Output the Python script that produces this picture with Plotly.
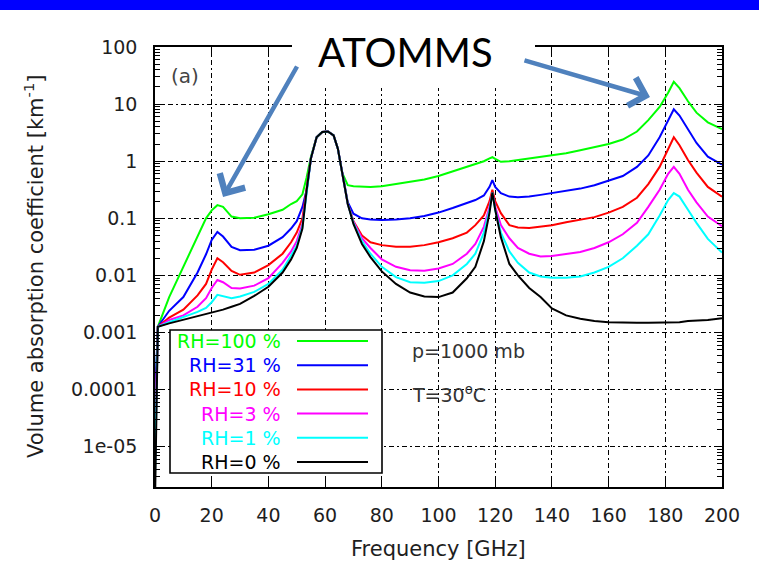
import plotly.graph_objects as go

# Frequency grid [GHz]
freq = [0, 1, 5, 10, 15, 18, 20, 22, 24, 27, 30, 35, 40, 45, 48, 50, 52, 53.5, 55, 57, 59,
        61, 63, 64.5, 66, 68, 70, 73, 76, 80, 85, 90, 95, 100, 105, 110, 113, 116, 118,
        119, 120, 122, 125, 128, 132, 136, 140, 145, 150, 155, 160, 165, 170, 174, 178,
        181, 183, 185, 188, 191, 195, 200]

# log10 of the volume absorption coefficient [km^-1] for each relative humidity
log_rh100 = [-4.4, -2.90, -2.38, -1.85, -1.32, -1.00, -0.86, -0.77, -0.80, -0.97, -1.00, -0.99,
             -0.93, -0.85, -0.75, -0.70, -0.58, -0.28, 0.08, 0.42, 0.51, 0.52, 0.45, 0.22,
             -0.20, -0.42, -0.44, -0.45, -0.45, -0.44, -0.40, -0.36, -0.32, -0.26, -0.18,
             -0.10, -0.05, 0.00, 0.05, 0.07, 0.04, -0.01, 0.00, 0.02, 0.05, 0.08, 0.11, 0.14,
             0.19, 0.24, 0.30, 0.38, 0.52, 0.72, 0.95, 1.20, 1.39, 1.28, 1.05, 0.85, 0.68, 0.56]
log_rh31 = [-4.2, -2.90, -2.62, -2.38, -1.95, -1.63, -1.38, -1.24, -1.32, -1.50, -1.56, -1.55,
            -1.48, -1.33, -1.18, -1.05, -0.80, -0.50, 0.05, 0.42, 0.51, 0.52, 0.45, 0.22,
            -0.18, -0.72, -0.92, -1.00, -1.02, -1.03, -1.02, -1.00, -0.96, -0.90, -0.82,
            -0.74, -0.68, -0.60, -0.45, -0.33, -0.45, -0.56, -0.62, -0.63, -0.62, -0.59,
            -0.56, -0.53, -0.48, -0.42, -0.34, -0.26, -0.10, 0.10, 0.42, 0.70, 0.91, 0.80,
            0.55, 0.32, 0.08, -0.06]
log_rh10 = [-5.0, -2.90, -2.74, -2.60, -2.35, -2.15, -1.90, -1.70, -1.77, -1.92, -1.99, -1.95,
            -1.82, -1.62, -1.42, -1.25, -1.00, -0.50, 0.05, 0.42, 0.51, 0.52, 0.45, 0.22,
            -0.18, -0.75, -1.05, -1.30, -1.42, -1.47, -1.50, -1.50, -1.47, -1.42, -1.35,
            -1.25, -1.12, -0.95, -0.70, -0.50, -0.70, -0.91, -1.12, -1.16, -1.17, -1.15,
            -1.12, -1.07, -1.03, -0.98, -0.90, -0.80, -0.64, -0.40, -0.10, 0.20, 0.42, 0.28,
            0.02, -0.20, -0.45, -0.62]
log_rh3 = [-5.3, -2.90, -2.78, -2.70, -2.55, -2.40, -2.22, -2.08, -2.12, -2.22, -2.23, -2.18,
           -2.05, -1.78, -1.58, -1.40, -1.10, -0.50, 0.05, 0.42, 0.51, 0.52, 0.45, 0.22,
           -0.18, -0.75, -1.06, -1.35, -1.52, -1.72, -1.85, -1.91, -1.92, -1.88, -1.80,
           -1.62, -1.45, -1.15, -0.80, -0.55, -0.80, -1.12, -1.35, -1.52, -1.62, -1.67,
           -1.66, -1.63, -1.59, -1.52, -1.42, -1.28, -1.08, -0.80, -0.50, -0.22, -0.10,
           -0.22, -0.50, -0.72, -0.97, -1.14]
log_rh1 = [-5.5, -2.90, -2.82, -2.73, -2.64, -2.57, -2.47, -2.34, -2.36, -2.40, -2.37, -2.29,
           -2.15, -1.90, -1.65, -1.48, -1.15, -0.50, 0.05, 0.42, 0.51, 0.52, 0.45, 0.22,
           -0.18, -0.75, -1.08, -1.40, -1.62, -1.85, -2.03, -2.12, -2.13, -2.10, -2.00,
           -1.80, -1.62, -1.25, -0.85, -0.55, -0.85, -1.25, -1.58, -1.78, -1.95, -2.02,
           -2.04, -2.04, -2.02, -1.95, -1.85, -1.70, -1.48, -1.28, -0.95, -0.68, -0.56,
           -0.62, -0.85, -1.08, -1.36, -1.60]
log_rh0 = [-6.0, -2.90, -2.84, -2.78, -2.72, -2.68, -2.66, -2.63, -2.60, -2.55, -2.50, -2.36,
           -2.20, -1.95, -1.72, -1.52, -1.18, -0.50, 0.05, 0.42, 0.51, 0.52, 0.45, 0.22,
           -0.18, -0.75, -1.10, -1.45, -1.68, -1.93, -2.15, -2.30, -2.37, -2.38, -2.30,
           -2.05, -1.85, -1.40, -0.90, -0.55, -0.85, -1.33, -1.80, -2.00, -2.22, -2.38,
           -2.58, -2.70, -2.76, -2.80, -2.82, -2.83, -2.83, -2.83, -2.83, -2.83, -2.83,
           -2.82, -2.80, -2.79, -2.78, -2.75]

series_labels = ["RH=100 %", "RH=31 %", "RH=10 %", "RH=3 %", "RH=1 %", "RH=0 %"]
series_logs = [log_rh100, log_rh31, log_rh10, log_rh3, log_rh1, log_rh0]
series_colors = ["#00ff00", "#0000ff", "#ff0000", "#ff00ff", "#00ffff", "#000000"]

y_tick_vals = [1e-5, 1e-4, 1e-3, 1e-2, 1e-1, 1, 10, 100]
y_tick_text = ["1e-05", "0.0001", "0.001", "0.01", "0.1", "1", "10", "100"]
x_tick_vals = [0, 20, 40, 60, 80, 100, 120, 140, 160, 180, 200]

GNU_FONT = "DejaVu Sans"
TXT = "#1e1e1e"

fig = go.Figure()
for label, logs, color in zip(series_labels, series_logs, series_colors):
    fig.add_trace(go.Scatter(
        x=freq, y=[10 ** v for v in logs], mode="lines", name=label,
        line=dict(color=color, width=2), showlegend=False, cliponaxis=True))

minor_vals = [m * 10.0 ** e for e in range(-6, 2) for m in range(2, 10)]
grid_dash = "5px,3px,2px,3px"

fig.update_xaxes(
    range=[0, 200], tickvals=x_tick_vals, ticks="inside", ticklen=8, tickwidth=1.3,
    tickcolor="black", showline=True, linecolor="black", linewidth=1.6, mirror="ticks",
    showgrid=True, gridcolor="black", gridwidth=1.2, griddash=grid_dash,
    zeroline=False, tickfont=dict(family=GNU_FONT, size=19, color=TXT),
    ticklabelstandoff=10)
fig.update_yaxes(
    type="log", range=[-5.706, 2], tickvals=y_tick_vals, ticktext=y_tick_text,
    ticks="inside", ticklen=8, tickwidth=1.3, tickcolor="black",
    minor=dict(tickvals=minor_vals, ticks="inside", ticklen=5, tickcolor="black",
               showgrid=False),
    showline=True, linecolor="black", linewidth=1.6, mirror="ticks",
    showgrid=True, gridcolor="black", gridwidth=1.2, griddash=grid_dash,
    zeroline=False, tickfont=dict(family=GNU_FONT, size=19, color=TXT),
    ticklabelstandoff=12)

W, H = 759, 562
ML, MR, MT, MB = 155, 37, 47, 75
PW, PH = W - ML - MR, H - MT - MB


def px(x):
    return (x - ML) / PW


def py(y):
    return 1 - (y - MT) / PH


shapes = []
annotations = []

# title band across the top
shapes.append(dict(type="rect", xref="paper", yref="paper", x0=px(0), x1=px(W),
                   y0=py(10), y1=py(0), fillcolor="#0000ff", line_width=0, layer="above"))
# white backing behind the ATOMMS label
shapes.append(dict(type="rect", xref="paper", yref="paper", x0=px(292), x1=px(535),
                   y0=py(88), y1=py(12), fillcolor="white", line_width=0, layer="above"))

# legend box
shapes.append(dict(type="rect", xref="paper", yref="paper", x0=px(170), x1=px(382),
                   y0=py(473), y1=py(330), fillcolor="white",
                   line=dict(color="black", width=1.6), layer="above"))
row_y0, row_step = 341, 24.2
for i, (label, color) in enumerate(zip(series_labels, series_colors)):
    yy = row_y0 + i * row_step
    annotations.append(dict(xref="paper", yref="paper", x=px(283), y=py(yy), text=label,
                            showarrow=False, xanchor="right", yanchor="middle",
                            font=dict(family=GNU_FONT, size=19, color=color)))
    shapes.append(dict(type="line", xref="paper", yref="paper", x0=px(297), x1=px(368),
                       y0=py(yy), y1=py(yy), line=dict(color=color, width=2), layer="above"))

# axis titles
annotations.append(dict(xref="paper", yref="paper", x=px(34), y=0.5,
                        text="Volume absorption coefficient [km<sup>-1</sup>]",
                        textangle=-90, showarrow=False, xanchor="center", yanchor="middle",
                        font=dict(family=GNU_FONT, size=21, color=TXT)))
annotations.append(dict(xref="paper", yref="paper", x=0.5, y=py(549),
                        text="Frequency [GHz]", showarrow=False,
                        xanchor="center", yanchor="middle",
                        font=dict(family=GNU_FONT, size=21, color=TXT)))

# panel tag and conditions
annotations.append(dict(xref="x", yref="y", x=10.5, y=1.5, text="(a)", showarrow=False,
                        xanchor="center", yanchor="middle",
                        font=dict(family=GNU_FONT, size=20, color="#444444")))
annotations.append(dict(xref="x", yref="y", x=90, y=-3.33, text="p=1000 mb",
                        showarrow=False, xanchor="left", yanchor="middle",
                        font=dict(family=GNU_FONT, size=19, color="#333333")))
annotations.append(dict(xref="x", yref="y", x=90, y=-4.07, text="T=30<sup>o</sup>C",
                        showarrow=False, xanchor="left", yanchor="middle",
                        font=dict(family=GNU_FONT, size=19, color="#333333")))

# ATOMMS label with arrows to the 22 GHz and 183 GHz water lines
annotations.append(dict(xref="paper", yref="paper", x=px(405), y=py(52), text="ATOMMS",
                        showarrow=False, xanchor="center", yanchor="middle",
                        font=dict(family="Lato", size=40, color="black")))
arrow_blue = "#4f81bd"
for (hx, hy, tx, ty) in [(24.0, -0.627, 50.4, 1.685), (174.6, 1.124, 129.8, 1.772)]:
    annotations.append(dict(xref="x", yref="y", x=hx, y=hy, axref="x", ayref="y",
                            ax=tx, ay=ty, text="", showarrow=True, arrowhead=4,
                            arrowsize=1.25, arrowwidth=4.5, arrowcolor=arrow_blue,
                            standoff=0, startstandoff=0))

fig.update_layout(
    width=W, height=H, margin=dict(l=ML, r=MR, t=MT, b=MB),
    paper_bgcolor="white", plot_bgcolor="white",
    shapes=shapes, annotations=annotations, showlegend=False)

fig.write_html("out.html")
